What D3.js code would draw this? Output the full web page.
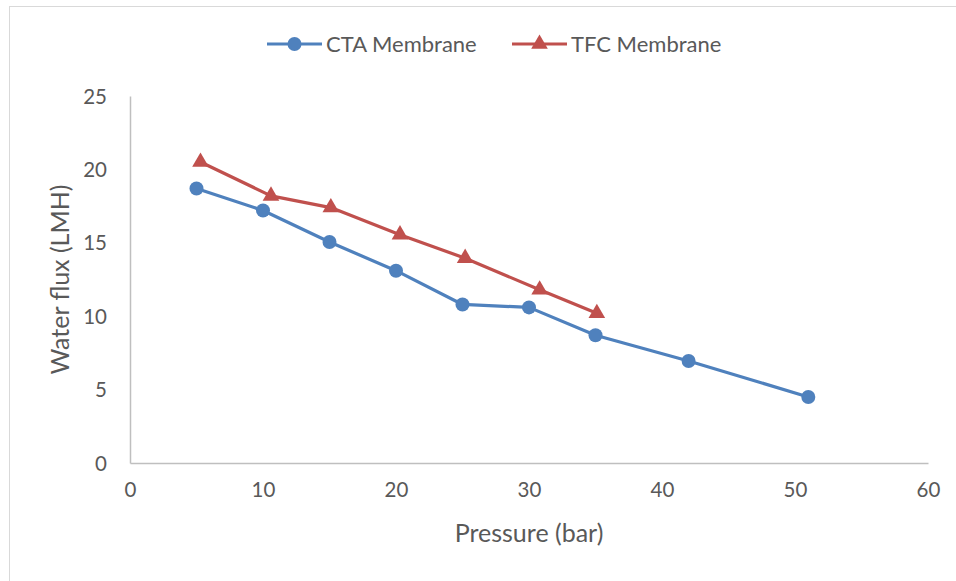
<!DOCTYPE html>
<html>
<head>
<meta charset="utf-8">
<script src="https://cdn.jsdelivr.net/npm/d3@7/dist/d3.min.js"></script>
<style>
  body { margin: 0; background: #fff; }
  svg text { font-family: Lato, "Open Sans", sans-serif; fill: #595959; }
</style>
</head>
<body>
<svg id="chart" width="956" height="581"></svg>
<script>
// Water flux vs applied pressure for two membrane types
const ctaPressure = [5, 10, 15, 20, 25, 30, 35, 42, 51];
const ctaFlux     = [18.7, 17.2, 15.05, 13.1, 10.8, 10.6, 8.7, 6.95, 4.5];
const tfcPressure = [5.3, 10.6, 15.1, 20.3, 25.2, 30.8, 35.1];
const tfcFlux     = [20.5, 18.2, 17.4, 15.55, 13.95, 11.8, 10.2];
const xTicks = [0, 10, 20, 30, 40, 50, 60];
const yTicks = [0, 5, 10, 15, 20, 25];
const seriesNames = ["CTA Membrane", "TFC Membrane"];
const seriesColors = ["#4F81BD", "#C0504D"];

const series = [
  { name: seriesNames[0], color: seriesColors[0], marker: "circle",
    points: ctaPressure.map((p, i) => ({ x: p, y: ctaFlux[i] })) },
  { name: seriesNames[1], color: seriesColors[1], marker: "triangle",
    points: tfcPressure.map((p, i) => ({ x: p, y: tfcFlux[i] })) }
];

const svg = d3.select("#chart");
const plot = { left: 130, right: 928, top: 96, bottom: 463 };
const fontFamily = "Lato, 'Open Sans', sans-serif";

// outer chart frame (right and bottom edges run past the canvas)
svg.append("rect")
  .attr("x", 9.5).attr("y", 6.5).attr("width", 1000).attr("height", 1000)
  .attr("fill", "#fff").attr("stroke", "#D9D9D9").attr("stroke-width", 1);

const x = d3.scaleLinear().domain([0, 60]).range([plot.left, plot.right]);
const y = d3.scaleLinear().domain([0, 25]).range([plot.bottom, plot.top]);

// axes
const xAxis = svg.append("g")
  .attr("transform", `translate(0,${plot.bottom})`)
  .call(d3.axisBottom(x).tickValues(xTicks).tickSize(0).tickPadding(23));
const yAxis = svg.append("g")
  .attr("transform", `translate(${plot.left},0)`)
  .call(d3.axisLeft(y).tickValues(yTicks).tickSize(0).tickPadding(23));

[xAxis, yAxis].forEach(g => {
  g.select(".domain").attr("stroke", "#BFBFBF").attr("stroke-width", 1.5);
  g.selectAll("text").attr("font-size", 20.5).attr("fill", "#595959")
    .attr("font-family", fontFamily);
});
xAxis.selectAll("text").attr("dy", "0.55em");
yAxis.selectAll("text").attr("dy", "0.35em");

// axis titles
svg.append("text")
  .attr("x", (plot.left + plot.right) / 2).attr("y", 542)
  .attr("text-anchor", "middle").attr("font-size", 25)
  .text("Pressure (bar)");
svg.append("text")
  .attr("transform", `translate(69,${(plot.top + plot.bottom) / 2}) rotate(-90)`)
  .attr("text-anchor", "middle").attr("font-size", 25)
  .text("Water flux (LMH)");

const line = d3.line().x(d => x(d.x)).y(d => y(d.y));
const triangle = d3.symbol().type(d3.symbolTriangle).size(120);

function drawMarker(g, type, color) {
  if (type === "circle") {
    g.append("circle").attr("r", 7).attr("fill", color);
  } else {
    g.append("path").attr("d", triangle).attr("fill", color);
  }
}

series.forEach(s => {
  svg.append("path")
    .datum(s.points)
    .attr("d", line)
    .attr("fill", "none")
    .attr("stroke", s.color)
    .attr("stroke-width", 3.2)
    .attr("stroke-linejoin", "round");
  svg.selectAll(null)
    .data(s.points)
    .enter().append("g")
    .attr("transform", d => `translate(${x(d.x)},${y(d.y)})`)
    .each(function () { drawMarker(d3.select(this), s.marker, s.color); });
});

// legend
const legendX = [267, 512];
series.forEach((s, i) => {
  const g = svg.append("g").attr("transform", `translate(${legendX[i]},44)`);
  g.append("line").attr("x1", 0).attr("x2", 55).attr("y1", 0).attr("y2", 0)
    .attr("stroke", s.color).attr("stroke-width", 3.2);
  const m = g.append("g").attr("transform", "translate(27.5,0)");
  drawMarker(m, s.marker, s.color);
  g.append("text").attr("x", 59).attr("y", 0).attr("dy", "0.36em")
    .attr("font-size", 22).text(s.name);
});
</script>
</body>
</html>
